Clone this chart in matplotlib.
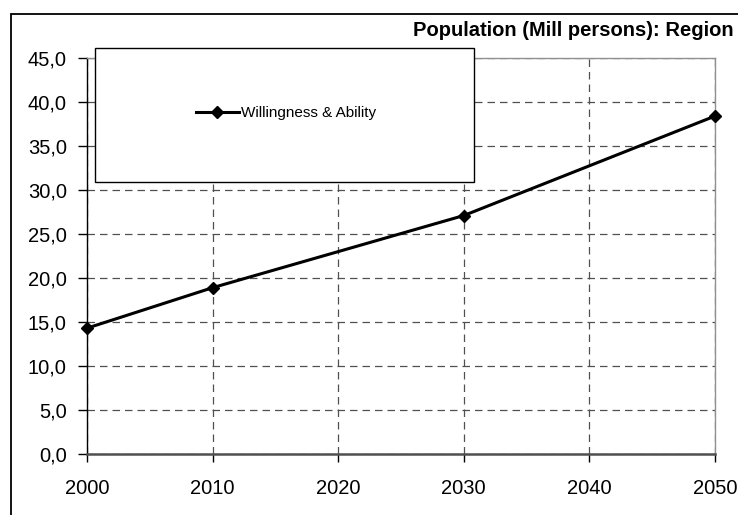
import matplotlib.pyplot as plt
from matplotlib.patches import Rectangle

# Population series (million persons)
years = [2000, 2010, 2030, 2050]
population = [14.3, 18.9, 27.1, 38.4]
series_name = "Willingness & Ability"

x_ticks = [2000, 2010, 2020, 2030, 2040, 2050]
y_ticks = [0, 5, 10, 15, 20, 25, 30, 35, 40, 45]
y_labels = [f"{v:.1f}".replace(".", ",") for v in y_ticks]

plt.rcParams['font.family'] = ['Liberation Sans', 'DejaVu Sans']

fig = plt.figure(figsize=(7.38, 5.15), dpi=100)
ax = fig.add_axes([87 / 738, 1 - 454 / 515, 628 / 738, 396 / 515])

ax.plot(years, population, color='black', linewidth=2.2, marker='D',
        markersize=6.5, markerfacecolor='black', markeredgecolor='black',
        clip_on=False, zorder=3, label=series_name)

ax.set_xlim(2000, 2050)
ax.set_ylim(0, 45)
ax.set_xticks(x_ticks)
ax.set_yticks(y_ticks)
ax.set_yticklabels(y_labels)

# dashed grid, drawn under the data
ax.set_axisbelow(True)
ax.grid(True, color='#505050', linestyle=(0, (6, 4)), linewidth=0.9)

ax.spines['left'].set_color('black')
ax.spines['left'].set_linewidth(1.0)
ax.spines['bottom'].set_color('#505050')
ax.spines['bottom'].set_linewidth(1.8)
ax.spines['top'].set_color('#909090')
ax.spines['right'].set_color('#909090')
ax.spines['top'].set_linewidth(1.0)
ax.spines['right'].set_linewidth(1.0)

ax.tick_params(axis='y', direction='out', length=6.5, width=1, labelsize=14.5, pad=8)
ax.tick_params(axis='x', direction='out', length=6, width=1, labelsize=14.5, pad=12)

# outer chart frame
fig.patches.append(Rectangle((11 / 738, -0.1), 1.2, 1 - 13.5 / 515 + 0.1,
                             transform=fig.transFigure, fill=False,
                             edgecolor='black', linewidth=1.3, zorder=1))

# legend box over the plot area
fig.patches.append(Rectangle((95 / 738, 1 - 182 / 515), 379 / 738, 134 / 515,
                             transform=fig.transFigure, facecolor='white',
                             edgecolor='black', linewidth=1.0, zorder=2))
fig.legend(loc='center', bbox_to_anchor=(286 / 738, 1 - 113 / 515),
           frameon=False, fontsize=11, handlelength=2.8, handletextpad=0.15)

fig.text(734 / 738, 1 - 30 / 515, "Population (Mill persons): Region",
         ha='right', va='center', fontsize=14.5, fontweight='bold')

fig.savefig('out.png', dpi=100)
